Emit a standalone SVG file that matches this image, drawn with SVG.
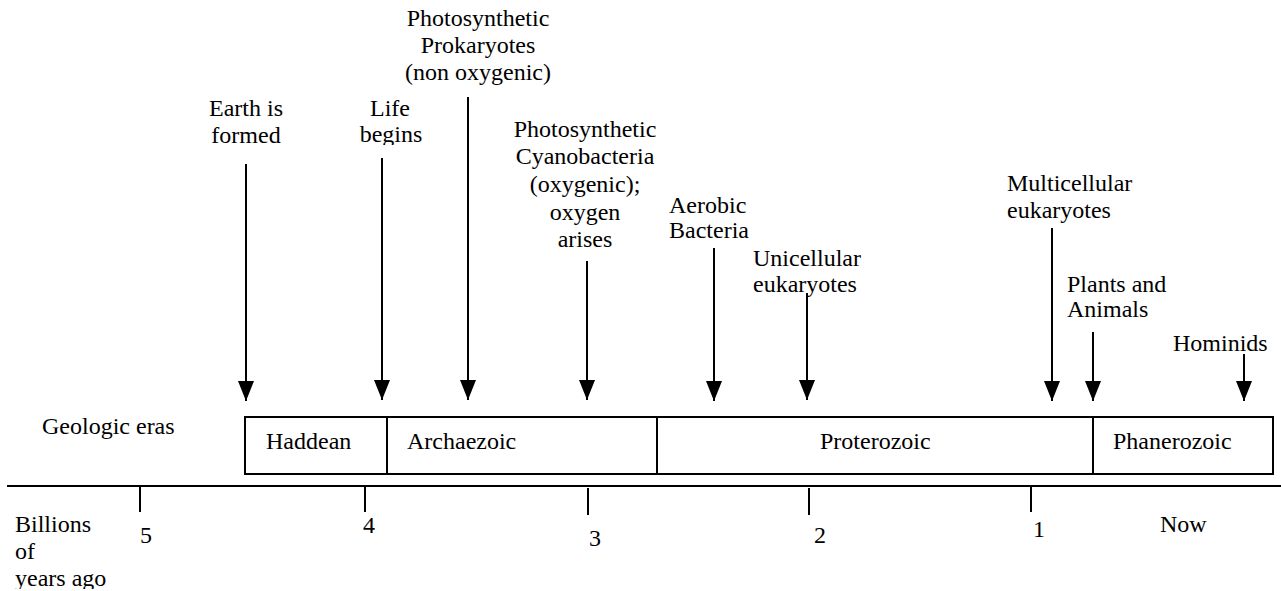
<svg xmlns="http://www.w3.org/2000/svg" width="1281" height="591" viewBox="0 0 1281 591">
<style>
text{font-family:"Liberation Serif","Times New Roman",serif;font-size:24px;fill:#000}
.c{text-anchor:middle}
.ln{stroke:#000;stroke-width:2;fill:none}
.box{stroke:#000;stroke-width:2;fill:#fff}
</style>
<defs>
<marker id="ah" markerWidth="20" markerHeight="16" refX="20" refY="8" orient="auto" markerUnits="userSpaceOnUse">
<path d="M0,0 L20,8 L0,16 z" fill="#000"/>
</marker>
<clipPath id="clipLife"><rect x="340" y="90" width="100" height="55"/></clipPath>
<clipPath id="clipPlants"><rect x="1050" y="260" width="150" height="59"/></clipPath>
<clipPath id="clipYears"><rect x="0" y="500" width="140" height="89"/></clipPath>
</defs>
<rect width="1281" height="591" fill="#fff"/>

<g id="connectors">
<line class="ln" x1="246" y1="164" x2="246" y2="401" marker-end="url(#ah)"/>
<line class="ln" x1="382" y1="158" x2="382" y2="400" marker-end="url(#ah)"/>
<line class="ln" x1="468" y1="97" x2="468" y2="400" marker-end="url(#ah)"/>
<line class="ln" x1="587" y1="261" x2="587" y2="400" marker-end="url(#ah)"/>
<line class="ln" x1="714" y1="248" x2="714" y2="401" marker-end="url(#ah)"/>
<line class="ln" x1="807" y1="293" x2="807" y2="400" marker-end="url(#ah)"/>
<line class="ln" x1="1052" y1="228" x2="1052" y2="401" marker-end="url(#ah)"/>
<line class="ln" x1="1093" y1="332" x2="1093" y2="401" marker-end="url(#ah)"/>
<line class="ln" x1="1244" y1="354" x2="1244" y2="401" marker-end="url(#ah)"/>
</g>

<g id="earth"><text class="c" x="246" y="116">Earth is</text><text class="c" x="246" y="143">formed</text></g>
<g id="life" clip-path="url(#clipLife)"><text class="c" x="390" y="116">Life</text><text class="c" x="391" y="142">begins</text></g>
<g id="prokaryotes"><text class="c" x="478" y="26">Photosynthetic</text><text class="c" x="478" y="53">Prokaryotes</text><text class="c" x="478" y="80">(non oxygenic)</text></g>
<g id="cyanobacteria"><text class="c" x="585" y="137">Photosynthetic</text><text class="c" x="585" y="164">Cyanobacteria</text><text class="c" x="585" y="192">(oxygenic);</text><text class="c" x="585" y="220">oxygen</text><text class="c" x="585" y="247">arises</text></g>
<g id="aerobic"><text x="669" y="213">Aerobic</text><text x="669" y="238">Bacteria</text></g>
<g id="unicellular"><text x="753" y="266">Unicellular</text><text x="753" y="292">eukaryotes</text></g>
<g id="multicellular"><text x="1007" y="191">Multicellular</text><text x="1007" y="218">eukaryotes</text></g>
<g id="plants" clip-path="url(#clipPlants)"><text x="1067" y="292">Plants and</text><text x="1067" y="317">Animals</text></g>
<g id="hominids"><text x="1173" y="351">Hominids</text></g>

<g id="eras">
<text x="42" y="434">Geologic eras</text>
<rect class="box" x="245" y="417" width="1028" height="57"/>
<line class="ln" x1="387" y1="417" x2="387" y2="474"/>
<line class="ln" x1="657" y1="417" x2="657" y2="474"/>
<line class="ln" x1="1093" y1="417" x2="1093" y2="474" stroke-width="2.5"/>
<text x="266" y="449">Haddean</text>
<text x="407" y="449">Archaezoic</text>
<text x="820" y="449">Proterozoic</text>
<text x="1113" y="449">Phanerozoic</text>
</g>

<g id="axis">
<line class="ln" x1="7" y1="486" x2="1281" y2="486"/>
<line class="ln" x1="140" y1="486" x2="140" y2="512"/>
<line class="ln" x1="365" y1="486" x2="365" y2="512"/>
<line class="ln" x1="588" y1="488" x2="588" y2="515"/>
<line class="ln" x1="809" y1="488" x2="809" y2="515"/>
<line class="ln" x1="1031" y1="486" x2="1031" y2="512"/>
<text x="140" y="543">5</text>
<text x="363" y="533">4</text>
<text x="589" y="546">3</text>
<text x="814" y="543">2</text>
<text x="1033" y="537">1</text>
<text x="1160" y="532">Now</text>
<g clip-path="url(#clipYears)"><text x="15" y="532">Billions</text><text x="15" y="559">of</text><text x="15" y="586">years ago</text></g>
</g>
</svg>
